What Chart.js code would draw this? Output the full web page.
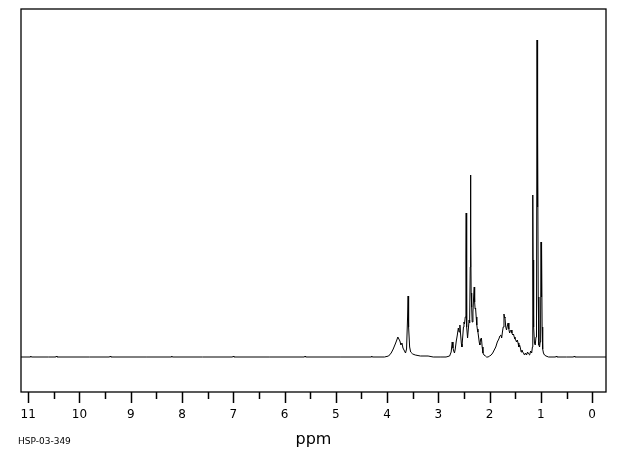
<!DOCTYPE html>
<html>
<head>
<meta charset="utf-8">
<script src="https://cdn.jsdelivr.net/npm/chart.js@4.4.1/dist/chart.umd.min.js"></script>
<style>
  html, body { margin: 0; padding: 0; background: #fff; }
</style>
</head>
<body>
<canvas id="nmrChart" width="620" height="455"></canvas>
<script>
// spectrum: chemical shift (ppm) and peak height above baseline
const ppm = [
  11.14, 10.96, 10.95, 10.94, 10.6, 10.46, 10.45, 10.44, 9.8, 9.41, 9.4, 9.39, 8.7, 8.21, 8.2,
  8.19, 7.6, 7.01, 7.0, 6.99, 6.3, 5.61, 5.6, 5.59, 4.9, 4.31, 4.3, 4.29, 4.05,
  3.97, 3.92, 3.88, 3.84, 3.81, 3.79, 3.77, 3.75,
  3.73, 3.71, 3.69, 3.66, 3.64, 3.62, 3.60, 3.59, 3.585, 3.575, 3.56, 3.54, 3.50, 3.45, 3.35,
  3.2, 3.1, 2.95, 2.85, 2.78, 2.75, 2.73, 2.715, 2.70, 2.685, 2.67, 2.65, 2.63, 2.61, 2.595,
  2.58, 2.565, 2.55, 2.54, 2.525, 2.51, 2.50, 2.49, 2.475, 2.462, 2.457, 2.452, 2.443, 2.43, 2.415,
  2.40, 2.39, 2.378, 2.372, 2.367, 2.36, 2.35, 2.34, 2.325, 2.31, 2.30, 2.292, 2.283, 2.274, 2.262,
  2.25, 2.24, 2.228, 2.215, 2.20, 2.19, 2.175, 2.16, 2.145, 2.13, 2.11, 2.08, 2.06, 2.03, 2.0,
  1.97, 1.94, 1.91, 1.88, 1.85, 1.82, 1.80, 1.78, 1.765, 1.75, 1.735, 1.72, 1.71, 1.70, 1.685,
  1.67, 1.655, 1.64, 1.625, 1.61, 1.595, 1.58, 1.565, 1.55, 1.535, 1.52, 1.505, 1.49, 1.475, 1.46,
  1.445, 1.43, 1.415, 1.40, 1.385, 1.37, 1.355, 1.34, 1.32, 1.30, 1.28, 1.26, 1.24, 1.22, 1.20,
  1.18, 1.165, 1.158, 1.152, 1.145, 1.138, 1.125, 1.11, 1.095, 1.085, 1.075, 1.068, 1.061, 1.052, 1.04,
  1.025, 1.015, 1.005, 0.997, 0.99, 0.984, 0.976, 0.965, 0.95, 0.93, 0.90, 0.85, 0.71, 0.7, 0.69,
  0.5, 0.36, 0.35, 0.34, 0.1, -0.27
];
const intensity = [
  0, 0, 1, 0, 0, 0, 1, 0, 0, 0, 1, 0, 0, 0, 1,
  0, 0, 0, 1, 0, 0, 0, 1, 0, 0, 0, 1, 0, 0,
  1, 4, 8, 13, 17, 20, 18, 16,
  12, 14, 9, 6, 4, 8, 40, 61, 55, 30, 10, 5, 3, 2, 1,
  1, 0, 0, 0, 1, 5, 15, 9, 6, 4, 8, 16, 22, 29, 25,
  32, 22, 13, 10, 20, 30, 35, 33, 40, 100, 144, 80, 30, 19, 28,
  37, 34, 90, 182, 120, 64, 50, 35, 45, 62, 70, 55, 48, 49, 40,
  32, 28, 25, 20, 14, 12, 18, 19, 10, 4, 2, 1, 0, 0, 1,
  2, 4, 7, 10, 15, 18, 21, 22, 19, 25, 30, 43, 40, 39, 30,
  27, 31, 34, 28, 24, 26, 27, 24, 22, 23, 20, 18, 17, 15, 17,
  14, 10, 12, 9, 5, 7, 5, 4, 2, 4, 2, 5, 3, 2, 6,
  4, 10, 162, 90, 97, 30, 14, 12, 20, 40, 317, 150, 224, 60, 12,
  10, 15, 40, 115, 60, 110, 30, 8, 4, 2, 1, 0, 0, 1, 0,
  0, 0, 1, 0, 0, 0
];
const tickLabels = [0, 1, 2, 3, 4, 5, 6, 7, 8, 9, 10, 11];
const minorTicks = [0.5, 1.5, 2.5, 3.5, 4.5, 5.5, 6.5, 7.5, 8.5, 9.5, 10.5];
const axisTitle = 'ppm';
const sampleCode = 'HSP-03-349';

const frame = {
  id: 'frame',
  afterDraw(chart) {
    const { ctx, chartArea: a, scales: { x } } = chart;
    ctx.save();
    ctx.strokeStyle = '#000';
    ctx.lineWidth = 1.3;
    ctx.strokeRect(a.left, a.top, a.right - a.left, a.bottom - a.top);

    ctx.lineWidth = 1.5;
    const drawTick = (v, len) => {
      const px = Math.round(x.getPixelForValue(v)) + 0.5;
      ctx.beginPath();
      ctx.moveTo(px, a.bottom);
      ctx.lineTo(px, a.bottom + len);
      ctx.stroke();
    };
    tickLabels.forEach(v => drawTick(v, 11));
    minorTicks.forEach(v => drawTick(v, 7));

    ctx.fillStyle = '#000';
    ctx.textAlign = 'center';
    ctx.textBaseline = 'middle';
    ctx.font = '16px "DejaVu Sans"';
    ctx.fillText(axisTitle, (a.left + a.right) / 2, 440);

    ctx.textAlign = 'left';
    ctx.font = '9px "DejaVu Sans"';
    ctx.fillText(sampleCode, 18, 442);
    ctx.restore();
  }
};

new Chart(document.getElementById('nmrChart'), {
  type: 'line',
  data: {
    datasets: [{
      data: ppm.map((p, i) => ({ x: p, y: intensity[i] })),
      borderColor: '#000',
      borderWidth: 1,
      pointRadius: 0,
      tension: 0,
      fill: false
    }]
  },
  options: {
    responsive: false,
    animation: false,
    layout: { padding: { left: 21, right: 14, top: 9, bottom: 0 } },
    plugins: { legend: { display: false }, tooltip: { enabled: false } },
    scales: {
      x: {
        type: 'linear',
        reverse: true,
        min: -0.27,
        max: 11.14,
        grid: { display: false, drawTicks: false },
        border: { display: false },
        afterBuildTicks: s => { s.ticks = tickLabels.map(v => ({ value: v })); },
        afterFit: s => { s.height = 63; },
        ticks: {
          padding: 16,
          maxRotation: 0,
          autoSkip: false,
          color: '#000',
          font: { family: 'DejaVu Sans', size: 12 }
        }
      },
      y: { display: false, min: -35, max: 348 }
    }
  },
  plugins: [frame]
});
</script>
</body>
</html>
